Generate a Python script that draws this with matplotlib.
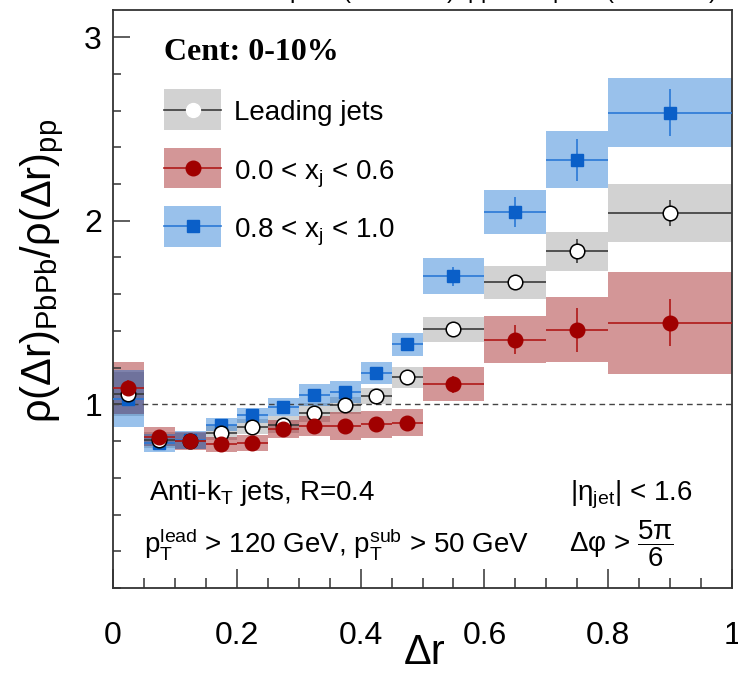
import numpy as np
import matplotlib
matplotlib.use("Agg")
import matplotlib.pyplot as plt
from matplotlib.patches import Rectangle
from matplotlib.lines import Line2D
from matplotlib.ticker import MultipleLocator, FixedLocator

# ---- data: jet shape ratio PbPb / pp, 0-10% centrality ----
bin_edges = [0.0, 0.05, 0.10, 0.15, 0.20, 0.25, 0.30, 0.35, 0.40, 0.45,
             0.50, 0.60, 0.70, 0.80, 1.00]

lead_vals = [1.055, 0.805, 0.800, 0.845, 0.878, 0.890, 0.955, 0.995, 1.045,
             1.148, 1.408, 1.665, 1.833, 2.042]
lead_stat = [0.030, 0.015, 0.015, 0.015, 0.015, 0.015, 0.015, 0.015, 0.015,
             0.020, 0.020, 0.025, 0.065, 0.072]
lead_sys = [0.120, 0.045, 0.045, 0.040, 0.040, 0.045, 0.050, 0.045, 0.045,
            0.057, 0.068, 0.090, 0.108, 0.157]

unbal_vals = [1.090, 0.824, 0.800, 0.783, 0.790, 0.866, 0.880, 0.882, 0.891,
              0.900, 1.109, 1.353, 1.405, 1.443]
unbal_stat = [0.040, 0.015, 0.015, 0.015, 0.015, 0.015, 0.015, 0.020, 0.020,
              0.020, 0.047, 0.080, 0.118, 0.128]
unbal_sys = [0.140, 0.050, 0.050, 0.040, 0.045, 0.050, 0.055, 0.075, 0.072,
             0.075, 0.092, 0.130, 0.177, 0.279]

bal_vals = [1.030, 0.790, 0.805, 0.890, 0.940, 0.987, 1.049, 1.067, 1.172,
            1.326, 1.697, 2.047, 2.332, 2.589]
bal_stat = [0.030, 0.015, 0.015, 0.015, 0.015, 0.015, 0.020, 0.020, 0.020,
            0.030, 0.052, 0.080, 0.115, 0.130]
bal_sys = [0.155, 0.050, 0.050, 0.035, 0.042, 0.050, 0.060, 0.060, 0.059,
           0.061, 0.098, 0.118, 0.154, 0.190]

legend_labels = ["Leading jets",
                 r"0.0 < x$_\mathregular{j}$ < 0.6",
                 r"0.8 < x$_\mathregular{j}$ < 1.0"]
x_ticks = [0.0, 0.2, 0.4, 0.6, 0.8, 1.0]
x_tick_labels = ["0", "0.2", "0.4", "0.6", "0.8", "1"]
y_ticks = [1, 2, 3]
y_tick_labels = ["1", "2", "3"]

# ---- style ----
plt.rcParams["font.family"] = ["Liberation Sans", "DejaVu Sans"]
plt.rcParams["mathtext.fontset"] = "custom"
plt.rcParams["mathtext.rm"] = "Liberation Sans"
plt.rcParams["mathtext.it"] = "Liberation Sans"
plt.rcParams["mathtext.bf"] = "Liberation Sans:bold"
plt.rcParams["mathtext.sf"] = "Liberation Sans"

GRAY_BAND = ((0.5, 0.5, 0.5), 0.35)
RED_BAND = ((150 / 255, 0.0, 4 / 255), 0.41)
BLUE_BAND = ((0.0, 102 / 255, 205 / 255), 0.40)
RED_MK = "#a00000"
RED_LN = "#b01818"
BLUE_MK = "#0a5fc8"
BLUE_LN = "#2a78d6"
LEAD_LN = "#3a3a3a"

edges = np.array(bin_edges)
centers = 0.5 * (edges[:-1] + edges[1:])
half = 0.5 * np.diff(edges)

fig = plt.figure(figsize=(7.38, 6.75), dpi=100)
ax = fig.add_axes([113 / 738, 1 - 588 / 675, 619 / 738, 578.5 / 675])

# systematic uncertainty boxes
for vals, sys_, (col, a) in [(lead_vals, lead_sys, GRAY_BAND),
                             (unbal_vals, unbal_sys, RED_BAND),
                             (bal_vals, bal_sys, BLUE_BAND)]:
    v = np.array(vals)
    s = np.array(sys_)
    ax.bar(centers, 2 * s, width=2 * half, bottom=v - s, color=col, alpha=a,
           linewidth=0, zorder=1)

ax.axhline(1.0, color="#444444", lw=1.0, ls=(0, (4, 3)), zorder=2)

# points with statistical errors
ax.errorbar(centers, bal_vals, xerr=half, yerr=bal_stat, fmt="s", ms=8,
            color=BLUE_LN, mfc=BLUE_MK, mec=BLUE_MK, elinewidth=1.2,
            capsize=0, zorder=3)
ax.errorbar(centers, lead_vals, xerr=half, yerr=lead_stat, fmt="o", ms=10.5,
            color=LEAD_LN, mfc="white", mec="black", mew=1.1, elinewidth=1.2,
            capsize=0, zorder=4)
ax.errorbar(centers, unbal_vals, xerr=half, yerr=unbal_stat, fmt="o", ms=10.5,
            color=RED_LN, mfc=RED_MK, mec=RED_MK, elinewidth=1.2,
            capsize=0, zorder=5)

# axes ranges and ticks
ax.set_xlim(0, 1)
ax.set_ylim(0, 3.15)
ax.xaxis.set_major_locator(FixedLocator(x_ticks))
ax.set_xticklabels(x_tick_labels)
ax.xaxis.set_minor_locator(MultipleLocator(0.05))
ax.yaxis.set_major_locator(FixedLocator(y_ticks))
ax.set_yticklabels(y_tick_labels)
ax.yaxis.set_minor_locator(MultipleLocator(0.2))
ax.tick_params(axis="both", which="both", direction="in", top=False,
               right=False, color="#333333", width=1.1)
ax.tick_params(axis="x", which="major", length=14, labelsize=23, pad=24)
ax.tick_params(axis="x", which="minor", length=7)
ax.tick_params(axis="y", which="major", length=12, labelsize=23, pad=8)
ax.tick_params(axis="y", which="minor", length=6)
for sp in ax.spines.values():
    sp.set_color("#333333")
    sp.set_linewidth(1.3)

ax.set_xlabel("Δr", fontsize=30, va="baseline")
ax.xaxis.set_label_coords(0.504, -0.131)
ax.set_ylabel(r"$\rho(\Delta r)_{\mathrm{PbPb}}/\rho(\Delta r)_{\mathrm{pp}}$",
              fontsize=30, va="center")
ax.yaxis.set_label_coords(-0.115, 0.548)

# legend
ax.text(0.082, 0.9265, "Cent: 0-10%", transform=ax.transAxes,
        family="Liberation Serif", weight="bold", fontsize=23, va="center")
leg_rows = [
    (0.827, 0.809, GRAY_BAND, LEAD_LN, "o", "white", "white", 10),
    (0.726, 0.707, RED_BAND, RED_LN, "o", RED_MK, RED_MK, 10.5),
    (0.6255, 0.606, BLUE_BAND, BLUE_LN, "s", BLUE_MK, BLUE_MK, 8),
]
bx0, bx1, bh = 0.0824, 0.175, 0.0705
for (yc, ybase, (col, a), lc, mk, mfc, mec, ms), lab in zip(leg_rows, legend_labels):
    ax.add_patch(Rectangle((bx0, yc - bh / 2), bx1 - bx0, bh, transform=ax.transAxes,
                           facecolor=col, alpha=a, lw=0, zorder=6))
    ax.add_line(Line2D([bx0, bx1], [yc, yc], transform=ax.transAxes, color=lc,
                       lw=1.2, zorder=7))
    ax.add_line(Line2D([(bx0 + bx1) / 2], [yc], transform=ax.transAxes, marker=mk,
                       ms=ms, mfc=mfc, mec=mec, lw=0, zorder=8))
    ax.text(0.195, ybase, lab, transform=ax.transAxes, fontsize=20, va="baseline")

# selection text
ax.text(0.058, 0.152, r"Anti-k$_\mathregular{T}$ jets, R=0.4",
        transform=ax.transAxes, fontsize=20, va="baseline")
ax.text(0.05, 0.062,
        r"p$_\mathregular{T}^\mathregular{lead}$ > 120 GeV, "
        r"p$_\mathregular{T}^\mathregular{sub}$ > 50 GeV",
        transform=ax.transAxes, fontsize=20, va="baseline")
ax.text(0.738, 0.152, r"|η$_\mathregular{jet}$| < 1.6",
        transform=ax.transAxes, fontsize=20, va="baseline")
ax.text(0.737, 0.062, r"Δφ > $\dfrac{5\pi}{6}$",
        transform=ax.transAxes, fontsize=20, va="baseline")

# luminosity header
fig.text(0.9715, 1.002,
         r"PbPb 404 μb$^{-1}$ (5.02 TeV)  pp 27.4 pb$^{-1}$ (5.02 TeV)",
         ha="right", va="baseline", fontsize=17)

fig.savefig("out.png", dpi=100)
